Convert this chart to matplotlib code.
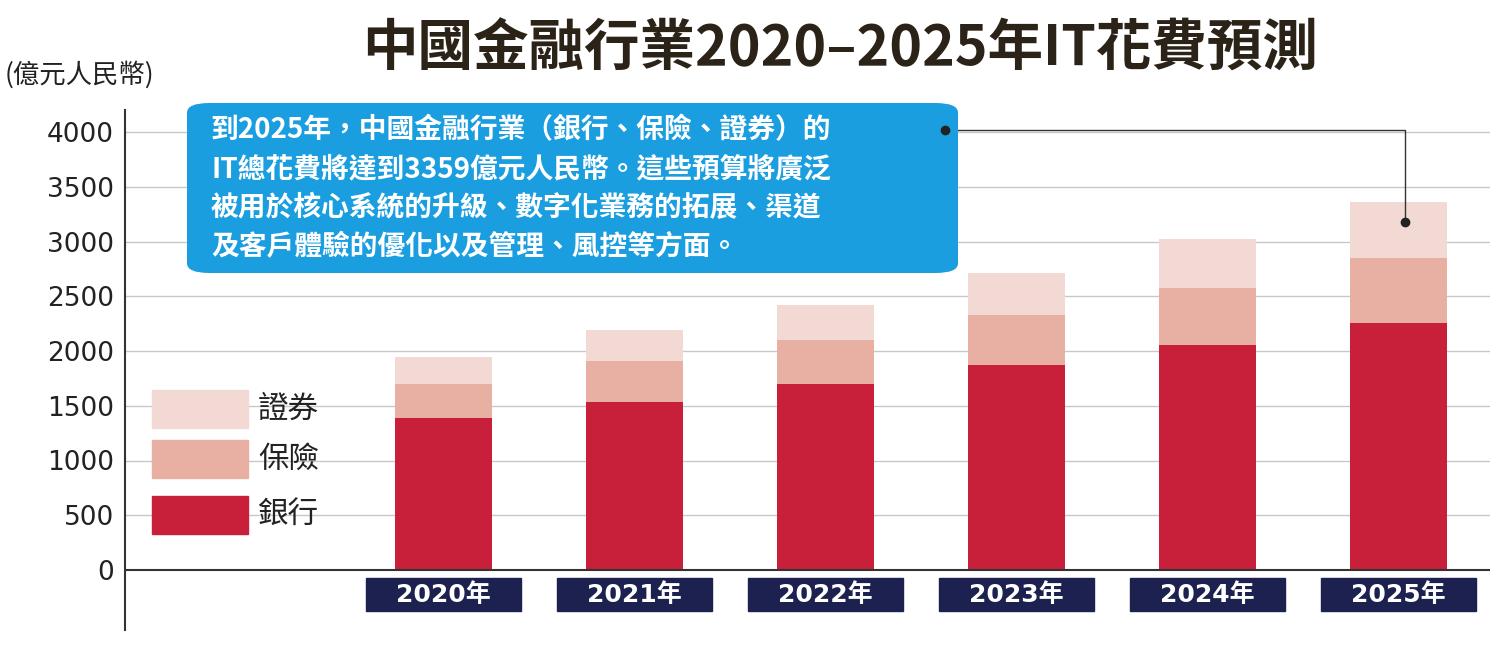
import matplotlib
matplotlib.use("Agg")
import matplotlib.pyplot as plt
from matplotlib.patches import Rectangle, FancyBboxPatch

plt.rcParams['font.family'] = ['Noto Sans CJK TC', 'DejaVu Sans']

years = ["2020年", "2021年", "2022年", "2023年", "2024年", "2025年"]
bank = [1388, 1534, 1699, 1872, 2055, 2256]
insurance = [311, 375, 401, 457, 520, 593]
securities = [246, 283, 320, 383, 448, 510]
series_names = ["銀行", "保險", "證券"]
colors = ["#c8203a", "#e8b0a2", "#f3d9d3"]
yticks = [0, 500, 1000, 1500, 2000, 2500, 3000, 3500, 4000]

W, H = 1500, 645
fig = plt.figure(figsize=(15, 6.45), dpi=100)
ppu = 438 / 4000
ax = fig.add_axes([125 / W, (H - 630) / H, (1490 - 125) / W, (630 - 110) / H])
ax.set_ylim(-(630 - 570) / ppu, (570 - 110) / ppu)
ax.set_xlim(-(443 - 125) / 191, (1490 - 443) / 191)

x = list(range(len(years)))
bw = 97 / 191
bottom2 = [b + i for b, i in zip(bank, insurance)]
ax.bar(x, bank, bw, color=colors[0], zorder=3)
ax.bar(x, insurance, bw, bottom=bank, color=colors[1], zorder=3)
ax.bar(x, securities, bw, bottom=bottom2, color=colors[2], zorder=3)

for t in yticks:
    if t > 0:
        ax.axhline(t, color="#c8c8c8", lw=1, zorder=1)
ax.axhline(0, color="#333333", lw=1.5, zorder=4)
ax.set_yticks(yticks)
ax.set_yticklabels([str(t) for t in yticks], fontsize=19, color="#222222", family="DejaVu Sans")
ax.tick_params(axis="y", length=0, pad=8)
ax.set_xticks([])
for s in ["top", "right", "bottom"]:
    ax.spines[s].set_visible(False)
ax.spines["left"].set_color("#333333")
ax.spines["left"].set_linewidth(1.5)

bx_w = 155 / 191
y0, y1 = -(578 - 570) / ppu, -(611 - 570) / ppu
for xi, lab in zip(x, years):
    ax.add_patch(Rectangle((xi - bx_w / 2, y1), bx_w, y0 - y1, color="#1c2150",
                           zorder=5, clip_on=False))
    ax.text(xi, (y0 + y1) / 2, lab, ha="center", va="center", fontsize=18, fontweight="bold",
            color="white", family=["DejaVu Sans", "Noto Sans CJK TC"], zorder=6)

fig.text(840 / W, 1 - 50 / H, "中國金融行業2020–2025年IT花費預測", ha="center", va="center",
         fontsize=40, fontweight="bold", color="#2b2218")
fig.text(5 / W, 1 - 75 / H, "(億元人民幣)", ha="left", va="center", fontsize=19, color="#222222")

leg = [("證券", colors[2], 390), ("保險", colors[1], 440), ("銀行", colors[0], 496)]
for name, c, ytop in leg:
    fig.patches.append(Rectangle((152 / W, 1 - (ytop + 38) / H), 96 / W, 38 / H,
                                 transform=fig.transFigure, color=c))
    fig.text(258 / W, 1 - (ytop + 19) / H, name, ha="left", va="center", fontsize=22, color="#222222")

fig.add_artist(plt.Line2D([945 / W, 1405 / W, 1405 / W], [1 - 130 / H, 1 - 130 / H, 1 - 222 / H],
                          transform=fig.transFigure, color="#333333", lw=1, zorder=5))
fig.patches.append(FancyBboxPatch((187 / W, 1 - 273 / H), (958 - 187) / W, (273 - 103) / H,
                                  boxstyle="round,pad=0,rounding_size=0.015",
                                  transform=fig.transFigure, fc="#1a9ee0", ec="none", zorder=6))
lines = ["到2025年，中國金融行業（銀行、保險、證券）的",
         "IT總花費將達到3359億元人民幣。這些預算將廣泛",
         "被用於核心系統的升級、數字化業務的拓展、渠道",
         "及客戶體驗的優化以及管理、風控等方面。"]
for i, l in enumerate(lines):
    fig.text(211 / W, 1 - (130 + i * 39) / H, l, ha="left", va="center", fontsize=20,
             fontweight="bold", color="white", zorder=7)
for px, py in [(945, 130), (1405, 222)]:
    fig.add_artist(plt.Line2D([px / W], [1 - py / H], marker="o", ms=6, color="#222222",
                              transform=fig.transFigure, zorder=8))

fig.savefig("out.png", dpi=100, facecolor="white")
